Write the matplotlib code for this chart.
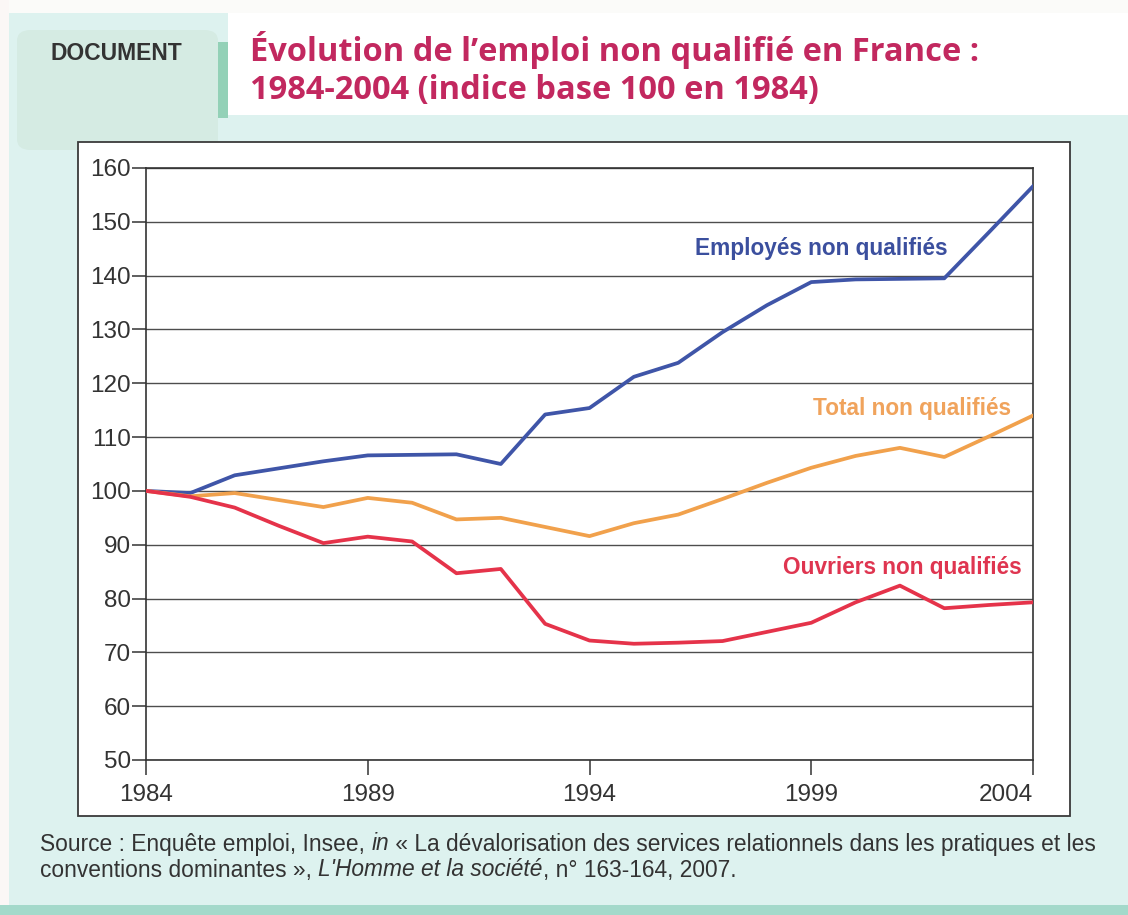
"""Évolution de l'emploi non qualifié en France, 1984-2004 (indice base 100)."""

import matplotlib

matplotlib.use("Agg")
import matplotlib.pyplot as plt
from matplotlib.patches import FancyBboxPatch, Rectangle

W, H = 1128, 915

YEARS = list(range(1984, 2005))
EMPLOYES = [100, 99.6, 102.9, 104.2, 105.5, 106.6, 106.7, 106.8, 105.0, 114.2,
            115.4, 121.2, 123.8, 129.5, 134.5, 138.8, 139.3, 139.4, 139.5, 148.0,
            156.6]
TOTAL = [100, 99.0, 99.6, 98.3, 97.0, 98.7, 97.8, 94.7, 95.0, 93.3, 91.6, 94.0,
         95.6, 98.5, 101.5, 104.3, 106.5, 108.0, 106.3, 110.1, 114.0]
OUVRIERS = [100, 98.9, 96.9, 93.5, 90.3, 91.5, 90.6, 84.7, 85.5, 75.3, 72.2,
            71.6, 71.8, 72.1, 73.8, 75.5, 79.3, 82.4, 78.2, 78.8, 79.3]

X_TICKS = [1984, 1989, 1994, 1999, 2004]
Y_TICKS = list(range(50, 161, 10))

SERIES = [
    ("Employés non qualifiés", EMPLOYES, "#3f55a8", "#3b4f9e"),
    ("Total non qualifiés", TOTAL, "#f1a14c", "#f0a35c"),
    ("Ouvriers non qualifiés", OUVRIERS, "#e5334a", "#df3550"),
]

TITLE = ["Évolution de l’emploi non qualifié en France :",
         "1984-2004 (indice base 100 en 1984)"]
SOURCE = [
    [("Source : Enquête emploi, Insee, ", "normal"), ("in", "italic"),
     (" « La dévalorisation des services relationnels dans les pratiques et les",
      "normal")],
    [("conventions dominantes », ", "normal"),
     ("L'Homme et la société", "italic"), (", n° 163-164, 2007.", "normal")],
]

SANS = ["Liberation Sans", "DejaVu Sans"]


def px_rect(fig, x0, y0, x1, y1, **kw):
    """Rectangle given in pixel coords (origin top-left)."""
    fig.patches.append(Rectangle((x0 / W, 1 - y1 / H), (x1 - x0) / W,
                                 (y1 - y0) / H, transform=fig.transFigure,
                                 **kw))


def text_runs(fig, x, y, runs, **kw):
    """Draw consecutive text pieces with different styles on one line."""
    renderer = fig.canvas.get_renderer()
    cur = x / W
    for txt, style in runs:
        t = fig.text(cur, 1 - y / H, txt, style=style, va="center", **kw)
        bb = t.get_window_extent(renderer)
        cur += bb.width / W


def main() -> None:
    fig = plt.figure(figsize=(W / 100, H / 100), dpi=100, facecolor="#ddf2ef")

    # page background
    px_rect(fig, 0, 0, W, 13, color="#fbfbf9", lw=0, zorder=0)
    px_rect(fig, 0, 0, 9, H, color="#fbf7f6", lw=0, zorder=0)
    fig.patches.append(FancyBboxPatch((17 / W, 1 - 150 / H), 201 / W, 120 / H,
                                      boxstyle="round,pad=0,rounding_size=0.012",
                                      transform=fig.transFigure,
                                      color="#d5ebe3", lw=0, zorder=0))
    px_rect(fig, 228, 13, W, 115, color="white", lw=0, zorder=0)
    px_rect(fig, 218, 42, 228, 118, color="#93d1b7", lw=0, zorder=0)
    px_rect(fig, 0, 905, W, H, color="#a3d9ca", lw=0, zorder=0)

    # chart frame
    px_rect(fig, 78, 142, 1070, 816, facecolor="white", edgecolor="#3a3a3a",
            lw=1.3, zorder=1)

    fig.text(50 / W, 1 - 54 / H, "DOCUMENT", family=SANS, weight="bold",
             fontsize=16.5, color="#333333", va="center")
    for i, line in enumerate(TITLE):
        fig.text(250 / W, 1 - (50 + 40 * i) / H, line, family=["Open Sans"],
                 weight="bold", fontsize=23.5, color="#c2285f", va="center")

    ax = fig.add_axes([146 / W, 1 - 760 / H, (1033 - 146) / W, (760 - 168) / H])
    ax.set_zorder(2)
    ax.set_facecolor("white")
    ax.set_xlim(1984, 2004)
    ax.set_ylim(50, 160)
    ax.set_xticks(X_TICKS)
    ax.set_yticks(Y_TICKS)
    ax.grid(axis="y", color="#4d4d4d", lw=1.0)
    ax.set_axisbelow(True)
    for side in ax.spines.values():
        side.set_color("#333333")
        side.set_linewidth(1.2)
    ax.tick_params(axis="y", direction="out", length=10, width=1.1, pad=1,
                   labelsize=17.5, colors="#333333")
    ax.tick_params(axis="x", direction="out", length=11, width=1.1, pad=6,
                   labelsize=17.5, colors="#333333")
    for lab in ax.get_xticklabels() + ax.get_yticklabels():
        lab.set_family(SANS)
    xl = ax.get_xticklabels()
    xl[-1].set_ha("right")

    for name, values, color, _ in SERIES:
        ax.plot(YEARS, values, color=color, lw=2.7, solid_joinstyle="round",
                label=name, zorder=3)

    label_pos = [(2002.07, 145.1), (2003.5, 115.3), (2003.74, 85.7)]
    for (name, _, _, tcolor), (lx, ly) in zip(SERIES, label_pos):
        ax.text(lx, ly, name, ha="right", va="center", family=SANS,
                weight="bold", fontsize=16.3, color=tcolor, zorder=4)

    for i, runs in enumerate(SOURCE):
        text_runs(fig, 40, 844 + 26 * i, runs, family=SANS, fontsize=16.4,
                  color="#333333")

    fig.savefig("out.png", dpi=100, facecolor=fig.get_facecolor())
    plt.close(fig)


if __name__ == "__main__":
    main()
